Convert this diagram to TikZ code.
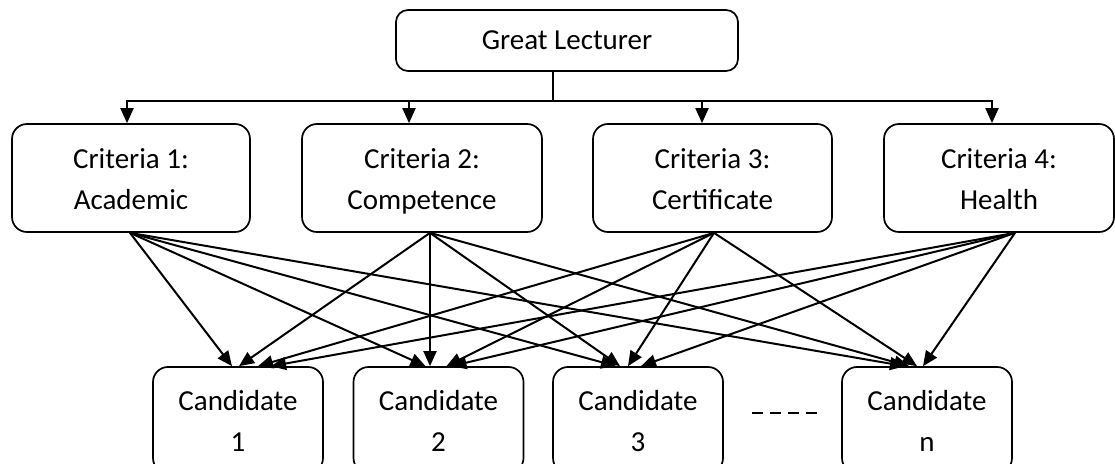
\documentclass[tikz,border=0pt]{standalone}
\usepackage{fontspec}
\setmainfont{Carlito}
\usetikzlibrary{arrows.meta,calc}
\newcommand\twolines[2]{\rule[-12pt]{0pt}{46pt}#1\\\rule[-12pt]{0pt}{40pt}#2}
\begin{document}
\begin{tikzpicture}[x=1pt,y=1pt,
  box/.style={draw, line width=1.7pt, rounded corners=15pt, align=center,
    font=\fontsize{29}{41}\selectfont, inner sep=0pt},
  crit/.style={box, minimum height=108pt},
  cand/.style={box, minimum width=170pt, minimum height=106pt},
  ln/.style={line width=2pt},
  arr/.style={line width=2pt, -{Triangle[length=15pt,width=13pt]}}]
\useasboundingbox (0,0) rectangle (1115,463);
% nodes
\node[box, minimum width=342pt, minimum height=61pt, rounded corners=12pt] (gl) at (567,422.5) {Great Lecturer};
\node[crit, minimum width=238pt] (k1) at (131,285) {\twolines{Criteria 1:}{Academic}};
\node[crit, minimum width=240pt] (k2) at (422,285) {\twolines{Criteria 2:}{Competence}};
\node[crit, minimum width=239pt] (k3) at (712.5,285) {\twolines{Criteria 3:}{Certificate}};
\node[crit, minimum width=230pt] (k4) at (999,285) {\twolines{Criteria 4:}{Health}};
\node[cand] (d1) at (238,43) {\twolines{Candidate}{1}};
\node[cand] (d2) at (438.5,43) {\twolines{Candidate}{2}};
\node[cand] (d3) at (638,43) {\twolines{Candidate}{3}};
\node[cand] (dn) at (927,43) {\twolines{Candidate}{n}};
% top distribution
\coordinate (bus) at (553,362);
\draw[ln] ([xshift=-14pt]gl.south) -- (bus);
\draw[arr] (bus) -| ([xshift=-4pt]k1.north);
\draw[arr] (bus) -| ([xshift=-13pt]k2.north);
\draw[arr] (bus) -| ([xshift=-10.5pt]k3.north);
\draw[arr] (bus) -| ([xshift=-7pt]k4.north);
% sources
\coordinate (s1) at ([xshift=-1pt]k1.south);
\coordinate (s2) at ([xshift=8pt]k2.south);
\coordinate (s3) at ([xshift=1.5pt]k3.south);
\coordinate (s4) at ([xshift=16pt]k4.south);
% to candidate 1
\draw[arr] (s1) -- ([xshift=-6pt]d1.north);
\draw[arr] (s2) -- ([xshift=1pt]d1.north);
\draw[arr] (s3) -- ([xshift=20pt]d1.north);
\draw[arr] (s4) -- ([xshift=33pt]d1.north);
% to candidate 2
\draw[arr] (s1) -- ([xshift=-13pt]d2.north);
\draw[arr] (s2) -- ([xshift=-8.5pt]d2.north);
\draw[arr] (s3) -- ([xshift=8pt]d2.north);
\draw[arr] (s4) -- ([xshift=13pt]d2.north);
% to candidate 3
\draw[arr] (s1) -- ([xshift=-22pt]d3.north);
\draw[arr] (s2) -- ([xshift=-18pt]d3.north);
\draw[arr] (s3) -- ([xshift=-10pt]d3.north);
\draw[arr] (s4) -- ([xshift=3pt]d3.north);
% to candidate n
\draw[arr] (s1) -- ([xshift=-22pt]dn.north);
\draw[arr] (s2) -- ([xshift=-18pt]dn.north);
\draw[arr] (s3) -- ([xshift=-10pt]dn.north);
\draw[arr] (s4) -- ([xshift=-4pt]dn.north);
% ellipsis dashes
\draw[line width=2pt, dash pattern=on 11pt off 7pt] (752,50) -- (817,50);
\end{tikzpicture}
\end{document}
